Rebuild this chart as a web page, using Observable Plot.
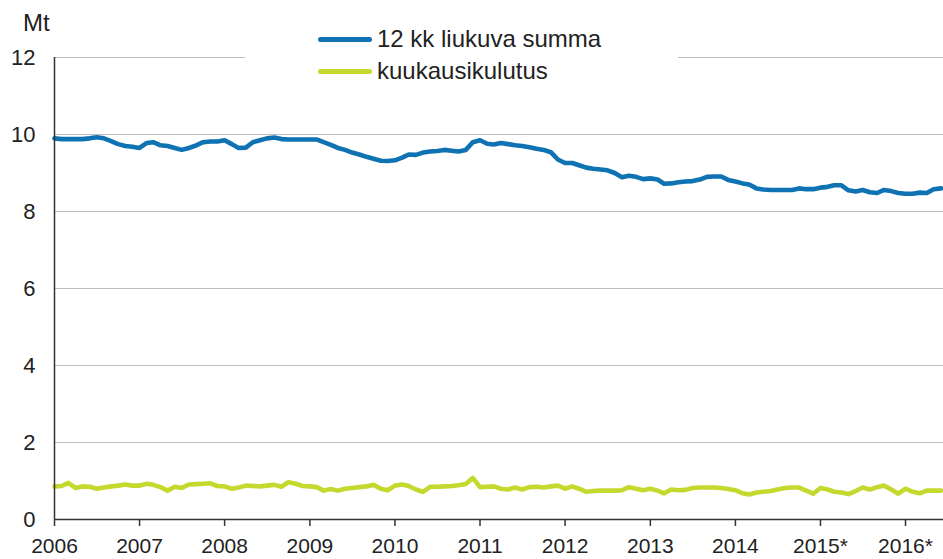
<!DOCTYPE html>
<html><head><meta charset="utf-8">
<script src="https://cdn.jsdelivr.net/npm/d3@7"></script>
<script src="https://cdn.jsdelivr.net/npm/@observablehq/plot@0.6"></script>
<style>
body{margin:0;background:#fff;}
#wrap{position:relative;width:943px;height:559px;font-family:"Liberation Sans",Arial,sans-serif;color:#222;}
#mt{position:absolute;left:23px;top:11px;font-size:24px;line-height:24px;}
#legend{position:absolute;left:245px;top:20px;width:433px;height:70px;background:#fff;}
.row{position:absolute;left:73px;height:26px;display:flex;align-items:center;font-size:24px;white-space:nowrap;}
.sw{width:54px;height:5px;border-radius:3px;margin-right:5px;flex:none;}
</style></head>
<body>
<div id="wrap"><div id="chart"></div><div id="mt">Mt</div>
<div id="legend">
 <div class="row" style="top:6px"><span class="sw" style="background:#0f73b3"></span>12 kk liukuva summa</div>
 <div class="row" style="top:38px"><span class="sw" style="background:#c4d82e"></span>kuukausikulutus</div>
</div></div>
<script>
const startYear = 2006;
const summa = [
 9.90, 9.88, 9.88, 9.88, 9.88, 9.90, 9.93, 9.90, 9.83, 9.75, 9.70, 9.68,
 9.65, 9.78, 9.80, 9.72, 9.70, 9.65, 9.60, 9.65, 9.72, 9.80, 9.82, 9.82,
 9.85, 9.75, 9.65, 9.66, 9.80, 9.85, 9.90, 9.92, 9.88, 9.87, 9.87, 9.87,
 9.87, 9.87, 9.80, 9.73, 9.65, 9.60, 9.53, 9.48, 9.42, 9.37, 9.32, 9.31,
 9.33, 9.40, 9.48, 9.47, 9.53, 9.56, 9.57, 9.60, 9.58, 9.56, 9.60, 9.80,
 9.85, 9.76, 9.74, 9.78, 9.75, 9.72, 9.70, 9.67, 9.63, 9.60, 9.54, 9.35,
 9.26, 9.26, 9.20, 9.14, 9.11, 9.09, 9.07, 9.00, 8.89, 8.93, 8.90, 8.84,
 8.86, 8.83, 8.72, 8.73, 8.76, 8.78, 8.79, 8.83, 8.90, 8.91, 8.91, 8.82,
 8.78, 8.73, 8.70, 8.60, 8.57, 8.56, 8.56, 8.56, 8.56, 8.60, 8.58, 8.58,
 8.62, 8.64, 8.68, 8.68, 8.55, 8.52, 8.56, 8.50, 8.48, 8.56, 8.53, 8.48,
 8.46, 8.46, 8.49, 8.48, 8.58, 8.60
];
const kulutus = [
 0.86, 0.87, 0.95, 0.82, 0.86, 0.85, 0.80, 0.83, 0.86, 0.88, 0.91, 0.88,
 0.88, 0.93, 0.90, 0.84, 0.75, 0.85, 0.82, 0.91, 0.92, 0.93, 0.94, 0.87,
 0.86, 0.80, 0.83, 0.88, 0.87, 0.86, 0.88, 0.90, 0.85, 0.97, 0.93, 0.87,
 0.86, 0.84, 0.75, 0.79, 0.75, 0.80, 0.82, 0.84, 0.86, 0.90, 0.80, 0.76,
 0.88, 0.91, 0.87, 0.78, 0.72, 0.85, 0.85, 0.86, 0.87, 0.89, 0.92, 1.08,
 0.84, 0.85, 0.86, 0.80, 0.78, 0.83, 0.78, 0.84, 0.85, 0.83, 0.86, 0.88,
 0.80, 0.86, 0.80, 0.72, 0.74, 0.75, 0.75, 0.75, 0.76, 0.84, 0.80, 0.76,
 0.80, 0.75, 0.68, 0.78, 0.76, 0.77, 0.82, 0.83, 0.83, 0.83, 0.82, 0.79,
 0.76, 0.68, 0.65, 0.70, 0.72, 0.74, 0.78, 0.82, 0.83, 0.83, 0.75, 0.67,
 0.82, 0.78, 0.72, 0.70, 0.66, 0.74, 0.83, 0.78, 0.84, 0.88, 0.78, 0.67,
 0.80, 0.72, 0.68, 0.75, 0.75, 0.75
];
const yTicks = [0, 2, 4, 6, 8, 10, 12];
const xTickYears = [2006, 2007, 2008, 2009, 2010, 2011, 2012, 2013, 2014, 2015, 2016];
const xTickLabels = ["2006", "2007", "2008", "2009", "2010", "2011", "2012", "2013", "2014", "2015*", "2016*"];
const colors = {summa: "#0f73b3", kulutus: "#c4d82e"};

const monthDate = i => new Date(Date.UTC(startYear, i, 1));
const dSumma = summa.map((v, i) => ({date: monthDate(i), v}));
const dKul = kulutus.map((v, i) => ({date: monthDate(i), v}));
const tickDates = xTickYears.map(y => new Date(Date.UTC(y, 0, 1)));
const labelOf = new Map(tickDates.map((d, i) => [+d, xTickLabels[i]]));
const xStart = new Date(Date.UTC(2006, 0, 1));
const xEnd = new Date(Date.UTC(2016, 5, 12));

const chart = Plot.plot({
  width: 943, height: 559,
  marginTop: 57, marginBottom: 40, marginLeft: 54, marginRight: 0,
  style: {fontFamily: "'Liberation Sans', Arial, sans-serif", fontSize: "21px", color: "#222", background: "white", overflow: "visible"},
  x: {type: "utc", domain: [xStart, xEnd]},
  y: {domain: [0, 12]},
  marks: [
    Plot.gridY(yTicks.filter(d => d > 0), {stroke: "#bdbdbd", strokeOpacity: 1, strokeWidth: 1.2}),
    Plot.lineY(dKul, {x: "date", y: "v", stroke: colors.kulutus, strokeWidth: 4.6, strokeLinejoin: "round"}),
    Plot.lineY(dSumma, {x: "date", y: "v", stroke: colors.summa, strokeWidth: 4.6, strokeLinejoin: "round"}),
    Plot.ruleY([0], {stroke: "#333", strokeWidth: 1.5}),
    Plot.ruleX([xStart], {y1: 0, y2: 12, stroke: "#333", strokeWidth: 1.5}),
    Plot.axisY({ticks: yTicks, tickSize: 0, tickPadding: 19, label: null, fontSize: 22}),
    Plot.axisX({ticks: tickDates, tickFormat: d => labelOf.get(+d), tickSize: 7, tickPadding: 12, label: null, stroke: "#333", strokeWidth: 1.5, fontSize: 21})
  ]
});
document.getElementById("chart").appendChild(chart);
</script>
</body></html>
